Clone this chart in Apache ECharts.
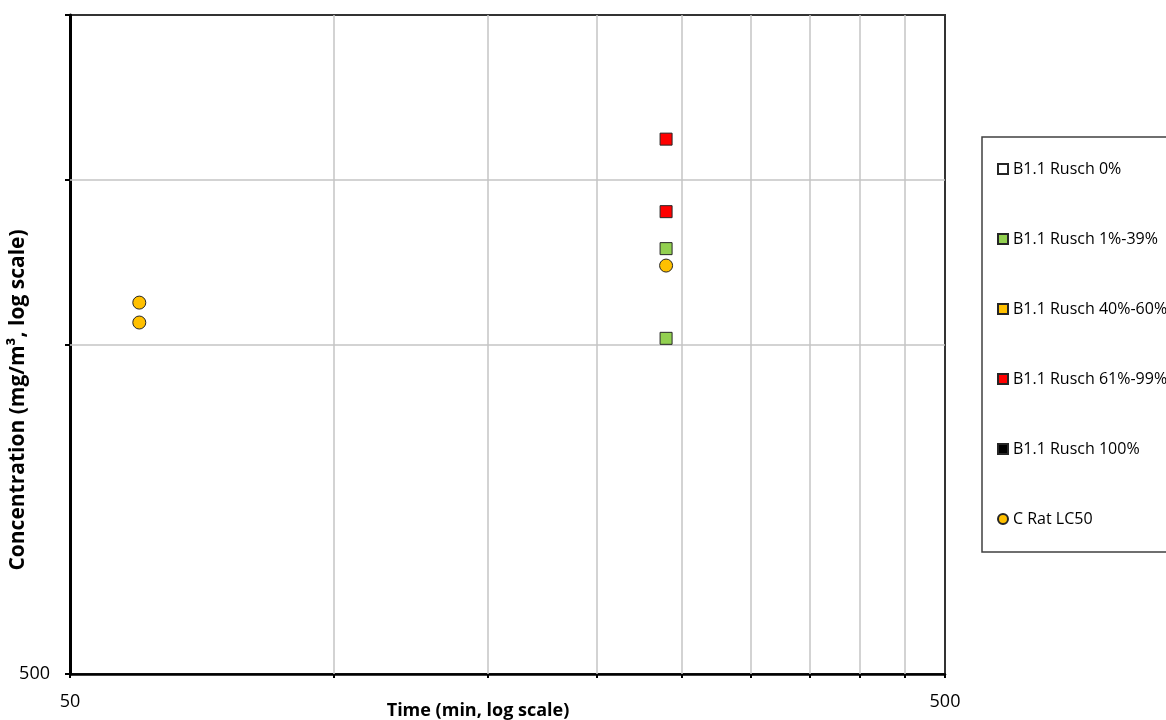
<!DOCTYPE html>
<html>
<head>
<meta charset="utf-8">
<script src="https://cdn.jsdelivr.net/npm/echarts@6/dist/echarts.min.js"></script>
<style>
html,body{margin:0;padding:0;background:#fff;}
#c{width:1166px;height:720px;}
</style>
</head>
<body>
<div id="c"></div>
<script>
// ---- data ----
const seriesNames = ['B1.1 Rusch 0%', 'B1.1 Rusch 1%-39%', 'B1.1 Rusch 40%-60%', 'B1.1 Rusch 61%-99%', 'B1.1 Rusch 100%', 'C Rat LC50'];
const rusch0 = [];
const rusch1to39 = [[240, 9770], [240, 5220]];
const rusch40to60 = [];
const rusch61to99 = [[240, 21000], [240, 12650]];
const rusch100 = [];
const ratLC50 = [[60, 6700], [60, 5830], [240, 8680]];

const xMin = 50, xMax = 500;
const yMin = 500, yMax = 50000;
const xTickValues = [50, 100, 150, 200, 250, 300, 350, 400, 450, 500];
const xGridValues = [100, 150, 200, 250, 300, 350, 400, 450];
const xLabelValues = [50, 500];
const yTickValues = [500, 5000, 15811, 50000];
const yGridValues = [5000, 15811];
const yLabelValues = [500];

const FONT = '"Open Sans", "Noto Sans", sans-serif';
const markerBase = { borderColor: '#262626', borderWidth: 1, opacity: 1 };

const chart = echarts.init(document.getElementById('c'), null, { renderer: 'canvas' });

const gridLines = xGridValues.map(v => ({ xAxis: v })).concat(yGridValues.map(v => ({ yAxis: v })));

const option = {
  animation: false,
  backgroundColor: '#ffffff',
  grid: {
    left: 70, right: 221, top: 15, bottom: 46,
    show: true, borderColor: '#333333', borderWidth: 2, backgroundColor: 'transparent'
  },
  xAxis: {
    type: 'log', logBase: 10, min: xMin, max: xMax,
    axisLine: { show: true, lineStyle: { color: '#000', width: 2.5 } },
    axisTick: { show: true, inside: false, length: 4, customValues: xTickValues, lineStyle: { color: '#000', width: 2 } },
    axisLabel: { show: true, customValues: xLabelValues, margin: 19, fontFamily: FONT, fontSize: 18, color: '#000' },
    splitLine: { show: false },
    minorTick: { show: false }, minorSplitLine: { show: false }
  },
  yAxis: {
    type: 'log', logBase: 10, min: yMin, max: yMax,
    axisLine: { show: true, lineStyle: { color: '#000', width: 3 } },
    axisTick: { show: true, inside: false, length: 5, customValues: yTickValues, lineStyle: { color: '#000', width: 2 } },
    axisLabel: { show: true, customValues: yLabelValues, margin: 20, fontFamily: FONT, fontSize: 18, color: '#000' },
    splitLine: { show: false },
    minorTick: { show: false }, minorSplitLine: { show: false }
  },
  legend: {
    data: seriesNames.map(n => ({ name: n })),
    orient: 'vertical',
    left: 982, top: 137,
    padding: [22, 40, 23, 15],
    itemWidth: 10, itemHeight: 10,
    itemGap: 50,
    borderColor: '#404040', borderWidth: 1.5,
    backgroundColor: '#fff',
    selectedMode: false,
    textStyle: { fontFamily: FONT, fontSize: 16, color: '#000', lineHeight: 20 }
  },
  graphic: [
    {
      type: 'text', x: 478, y: 711,
      style: { text: 'Time (min, log scale)', font: 'bold 18px ' + FONT, fill: '#000', align: 'center', verticalAlign: 'middle' }
    },
    {
      type: 'text', rotation: Math.PI / 2, x: 18, y: 400,
      style: { text: 'Concentration (mg/m³, log scale)', font: 'bold 21px ' + FONT, fill: '#000', align: 'center', verticalAlign: 'middle' }
    }
  ],
  series: [
    {
      name: '__grid', type: 'scatter', data: [], z: 1, silent: true,
      markLine: {
        silent: true, symbol: ['none', 'none'], animation: false,
        label: { show: false },
        lineStyle: { type: 'solid', color: '#C4C4C4', width: 1.5 },
        emphasis: { disabled: true },
        data: gridLines
      }
    },
    { name: seriesNames[0], type: 'scatter', symbol: 'rect', symbolSize: 12, data: rusch0, z: 5,
      itemStyle: Object.assign({ color: '#FFFFFF' }, markerBase) },
    { name: seriesNames[1], type: 'scatter', symbol: 'rect', symbolSize: 12, data: rusch1to39, z: 5,
      itemStyle: Object.assign({ color: '#92D050' }, markerBase) },
    { name: seriesNames[2], type: 'scatter', symbol: 'rect', symbolSize: 12, data: rusch40to60, z: 5,
      itemStyle: Object.assign({ color: '#FFC000' }, markerBase) },
    { name: seriesNames[3], type: 'scatter', symbol: 'rect', symbolSize: 12, data: rusch61to99, z: 5,
      itemStyle: Object.assign({ color: '#FF0000' }, markerBase) },
    { name: seriesNames[4], type: 'scatter', symbol: 'rect', symbolSize: 12, data: rusch100, z: 5,
      itemStyle: Object.assign({ color: '#000000' }, markerBase) },
    { name: seriesNames[5], type: 'scatter', symbol: 'circle', symbolSize: 13, data: ratLC50, z: 5,
      itemStyle: Object.assign({ color: '#FFC000' }, markerBase) }
  ]
};
chart.setOption(option);
</script>
</body>
</html>
